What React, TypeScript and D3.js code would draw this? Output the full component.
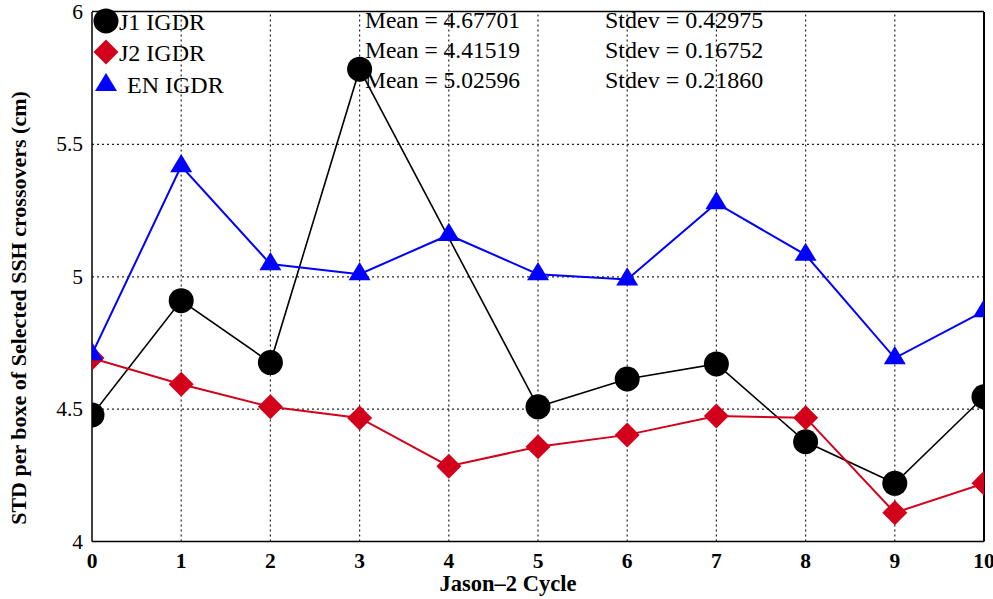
import React from "react";
import * as d3 from "d3";

// Jason-2 cycles 0..10
const cycles = [0, 1, 2, 3, 4, 5, 6, 7, 8, 9, 10];
// J1 has no value at cycle 4 (line joins 3 -> 5)
const j1 = [4.478, 4.91, 4.676, 5.784, null, 4.509, 4.614, 4.671, 4.377, 4.22, 4.547];
const j2 = [4.693, 4.594, 4.509, 4.467, 4.285, 4.358, 4.403, 4.474, 4.468, 4.109, 4.22];
const en = [4.708, 5.418, 5.048, 5.01, 5.158, 5.01, 4.99, 5.278, 5.083, 4.693, 4.87];

const yTicks = [4, 4.5, 5, 5.5, 6];
const xTicks = cycles;

const legendNames = ["J1 IGDR", "J2 IGDR", "EN IGDR"];
const meanLabels = ["Mean = 4.67701", "Mean = 4.41519", "Mean = 5.02596"];
const stdLabels = ["Stdev = 0.42975", "Stdev = 0.16752", "Stdev = 0.21860"];

const width = 993;
const height = 599;
const margin = { top: 12, right: 9, bottom: 57.4, left: 92 };
const font = "Liberation Serif, Tinos, DejaVu Serif, serif";

const circle = (r: number) => <circle r={r} fill="#000" />;
const diamond = (r: number) => <path d={`M0,${-r}L${r},0L0,${r}L${-r},0Z`} fill="#d2001a" />;
const triangle = (s: number) => (
  <path d={`M0,${-s * 1.1}L${s},${s * 0.55}L${-s},${s * 0.55}Z`} fill="#0000ff" />
);

const series = [
  { name: "J1", values: j1, color: "#000", lw: 1.6, marker: () => circle(12.5) },
  { name: "J2", values: j2, color: "#d2001a", lw: 2, marker: () => diamond(12.5) },
  { name: "EN", values: en, color: "#0000ff", lw: 2, marker: () => triangle(11) },
];

export default function App() {
  const x = d3.scaleLinear().domain([0, 10]).range([margin.left, width - margin.right]);
  const y = d3.scaleLinear().domain([4, 6]).range([height - margin.bottom, margin.top]);
  const x0 = x(0), x1 = x(10), y0 = y(4), y1 = y(6);

  const line = d3
    .line<{ c: number; v: number }>()
    .x((d) => x(d.c))
    .y((d) => y(d.v));

  return (
    <svg width={width} height={height} style={{ position: "absolute", left: 0, top: 0, background: "#fff" }}>
      <defs>
        <clipPath id="plot">
          <rect x={x0} y={y1} width={x1 - x0} height={y0 - y1} />
        </clipPath>
      </defs>

      {/* grid */}
      {xTicks.slice(1, -1).map((t) => (
        <line key={"gx" + t} x1={x(t)} x2={x(t)} y1={y0} y2={y1} stroke="#222" strokeWidth={1.2} strokeDasharray="2,3" />
      ))}
      {yTicks.slice(1, -1).map((t) => (
        <line key={"gy" + t} x1={x0} x2={x1} y1={y(t)} y2={y(t)} stroke="#222" strokeWidth={1.2} strokeDasharray="2,3" />
      ))}

      {/* box */}
      <line x1={x0} x2={x1} y1={y1 - 0.5} y2={y1 - 0.5} stroke="#000" strokeWidth={1.5} />
      <line x1={x0} x2={x1} y1={y0} y2={y0} stroke="#000" strokeWidth={1.5} />
      <line x1={x0} x2={x0} y1={y0} y2={y1} stroke="#000" strokeWidth={1.5} />
      <line x1={x1} x2={x1} y1={y0} y2={y1} stroke="#000" strokeWidth={2} />

      {/* series */}
      <g clipPath="url(#plot)">
        {series.map((s) => {
          const pts = cycles
            .map((c, i) => ({ c, v: s.values[i] as number | null }))
            .filter((d) => d.v !== null) as { c: number; v: number }[];
          return (
            <g key={s.name}>
              <path d={line(pts) || ""} fill="none" stroke={s.color} strokeWidth={s.lw} />
              {pts.map((d) => (
                <g key={d.c} transform={`translate(${x(d.c)},${y(d.v)})`}>
                  {s.marker()}
                </g>
              ))}
            </g>
          );
        })}
      </g>

      <g style={{ fontFamily: font }}>
        {/* legend */}
        {series.map((s, i) => (
          <g key={"leg" + s.name}>
            <g transform={`translate(106,${[21, 52, 85][i]})`}>{s.marker()}</g>
            <text x={i === 2 ? 127 : 119} y={[30, 61, 93][i]} fontSize={24}>
              {legendNames[i]}
            </text>
            <text x={365} y={[28, 58, 88][i]} fontSize={23.5}>
              {meanLabels[i]}
            </text>
            <text x={605} y={[28, 58, 88][i]} fontSize={24}>
              {stdLabels[i]}
            </text>
          </g>
        ))}

        {/* y ticks */}
        {yTicks.map((t) => (
          <text key={"yt" + t} x={83} y={y(t) + 7} textAnchor="end" fontSize={21.5}>
            {t}
          </text>
        ))}
        {/* x ticks */}
        {xTicks.map((t) => (
          <text key={"xt" + t} x={x(t)} y={568} textAnchor="middle" fontSize={21.5} fontWeight="bold">
            {t}
          </text>
        ))}

        <text x={508} y={591} textAnchor="middle" fontSize={22.5} fontWeight="bold">
          Jason–2 Cycle
        </text>
        <text transform={`translate(26,${308}) rotate(-90)`} textAnchor="middle" fontSize={22} fontWeight="bold">
          STD per boxe of Selected SSH crossovers (cm)
        </text>
      </g>
    </svg>
  );
}
